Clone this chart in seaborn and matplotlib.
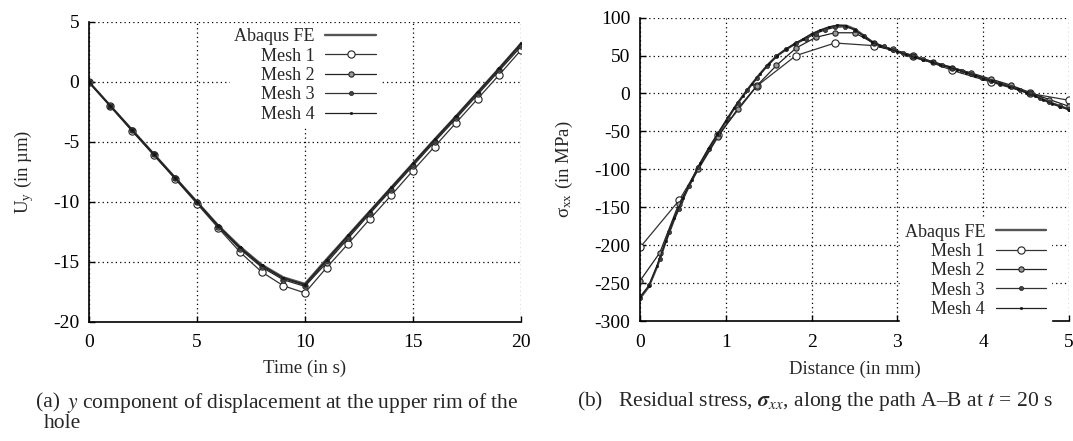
import matplotlib
matplotlib.use("Agg")
import matplotlib.pyplot as plt
import seaborn as sns

# (a) displacement at the upper rim of the hole
time_s = [0, 1, 2, 3, 4, 5, 6, 7, 8, 9, 10, 11, 12, 13, 14, 15, 16, 17, 18, 19, 20]
uy_abaqus = [0, -2.0, -4.0, -6.0, -8.0, -10.0, -12.0, -13.75, -15.25, -16.3, -16.85, -14.8, -12.8, -10.8, -8.8, -6.8, -4.8, -2.85, -0.85, 1.15, 3.2]
uy_mesh1 = [0, -2.05, -4.1, -6.1, -8.1, -10.15, -12.2, -14.2, -15.85, -17.0, -17.6, -15.5, -13.5, -11.45, -9.45, -7.4, -5.4, -3.4, -1.4, 0.6, 2.65]
uy_mesh2 = [0, -2.0, -4.05, -6.05, -8.05, -10.05, -12.1, -13.95, -15.45, -16.5, -17.05, -15.1, -13.05, -11.0, -9.0, -7.0, -5.0, -3.05, -1.05, 0.95, 2.95]
uy_mesh3 = [0, -2.0, -4.0, -6.0, -8.0, -10.0, -12.05, -13.85, -15.35, -16.4, -16.95, -14.95, -12.9, -10.9, -8.9, -6.9, -4.9, -2.9, -0.9, 1.1, 3.1]
uy_mesh4 = [0, -2.0, -4.0, -6.0, -8.0, -10.0, -12.0, -13.8, -15.3, -16.35, -16.9, -14.85, -12.8, -10.8, -8.8, -6.8, -4.8, -2.85, -0.85, 1.15, 3.2]

# (b) residual stress along path A-B
dist_fine = [0.0, 0.1, 0.2, 0.3, 0.4, 0.5, 0.6, 0.7, 0.8, 0.9, 1.0, 1.1, 1.2, 1.3, 1.4, 1.5, 1.6, 1.7,
             1.8, 1.9, 2.0, 2.1, 2.2, 2.3, 2.4, 2.5, 2.6, 2.7, 2.8, 2.9, 3.0, 3.1, 3.2, 3.3, 3.4, 3.5,
             3.6, 3.7, 3.8, 3.9, 4.0, 4.1, 4.2, 4.3, 4.4, 4.5, 4.6, 4.7, 4.8, 4.9, 5.0]
sxx_abaqus = [-270, -255, -228, -195, -165, -139, -115, -93, -73, -55, -37, -19, -3, 12, 26, 39, 50, 58,
              65, 71, 78, 83, 87, 89.5, 89.5, 85, 77, 68, 63, 59, 55, 51.5, 48, 44.5, 41.5, 38,
              35, 31.5, 28, 24, 20, 16.5, 13, 9.5, 6, 1.5, -3, -8, -13, -17, -21]
sxx_mesh4 = [-268, -254, -227, -195, -164, -138, -114, -92, -72, -54, -36, -19, -3, 12, 26, 39, 50, 58.5,
             65.5, 72, 78.5, 83.5, 87.5, 90, 89, 84, 76, 68, 63, 59, 55, 51, 47.5, 44, 41, 37.5,
             34.5, 31, 27.5, 23.5, 19.5, 16, 12.5, 9, 5.5, 1, -3.5, -8.5, -13.5, -17.5, -21.5]

dist_mesh3 = [0, 0.11, 0.23, 0.34, 0.45, 0.57, 0.68, 0.8, 0.91, 1.02, 1.14, 1.25, 1.36, 1.48, 1.59,
              1.7, 1.82, 1.93, 2.05, 2.16, 2.27, 2.39, 2.5, 2.61, 2.73, 2.84, 2.95, 3.07, 3.18, 3.3,
              3.41, 3.52, 3.64, 3.75, 3.86, 3.98, 4.09, 4.2, 4.32, 4.43, 4.55, 4.66, 4.77, 4.89, 5.0]
sxx_mesh3 = [-270, -253, -218, -183, -152, -122, -97, -73, -53, -33, -12, 4, 20, 36, 49,
             58, 66, 72, 79, 84, 87, 88, 84, 76, 67, 62, 57, 53, 49, 45,
             41, 37, 34, 30, 26, 21, 17, 13, 9, 5, 0, -6, -11, -16, -21]

dist_mesh2 = [0, 0.23, 0.45, 0.68, 0.91, 1.14, 1.36, 1.59, 1.82, 2.05, 2.27, 2.5, 2.73, 2.95, 3.18,
              3.41, 3.64, 3.86, 4.09, 4.32, 4.55, 4.77, 5.0]
sxx_mesh2 = [-247, -210, -146, -100, -57, -20, 10, 37, 60, 74, 80, 80, 66, 58, 50,
             42, 34, 27, 19, 11, 1, -8, -17]

dist_mesh1 = [0, 0.455, 0.909, 1.364, 1.818, 2.273, 2.727, 3.182, 3.636, 4.091, 4.545, 5.0]
sxx_mesh1 = [-203, -141, -55, 10, 50, 66.5, 63, 50, 30.5, 15, 0, -9]

labels = ["Abaqus FE", "Mesh 1", "Mesh 2", "Mesh 3", "Mesh 4"]

sns.set_theme(style="white")
plt.rcParams["font.family"] = ["Liberation Serif", "DejaVu Serif"]
plt.rcParams["mathtext.fontset"] = "stix"
plt.rcParams["axes.unicode_minus"] = False

FS = 14      # 刻度
FS_LAB = 13.5  # 坐标轴标题
FS_CAP = 15.5  # 子图说明

# 各系列样式
styles = [
    dict(color="#555555", lw=1.7),
    dict(color="#333333", lw=0.9, marker="o", ms=5.2, mfc="white", mec="#222222", mew=0.8),
    dict(color="#222222", lw=0.9, marker="o", ms=3.8, mfc="#999999", mec="#222222", mew=0.8),
    dict(color="#333333", lw=0.9, marker="o", ms=3.0, mfc="#444444", mec="#222222", mew=0.5),
    dict(color="#222222", lw=0.9, marker="o", ms=1.8, mfc="#111111", mec="#111111", mew=0.3),
]


def style_axes(ax):
    ax.grid(True, linestyle=(0, (1, 2.5)), color="black", lw=0.9)
    for side in ["top", "right"]:
        ax.spines[side].set_visible(False)
    for side in ["left", "bottom"]:
        ax.spines[side].set_color("black")
        ax.spines[side].set_linewidth(1.2)
    ax.tick_params(direction="in", length=4, width=1, colors="black", labelsize=FS,
                   bottom=True, left=True)
    ax.tick_params(axis="x", pad=9)
    ax.tick_params(axis="y", pad=7)


fig = plt.figure(figsize=(10.73, 4.41), dpi=100)
ax1 = fig.add_axes([0.0827, 0.2705, 0.4029, 0.680])
ax2 = fig.add_axes([0.5965, 0.2721, 0.3998, 0.688])

series_a = [uy_abaqus, uy_mesh1, uy_mesh2, uy_mesh3, uy_mesh4]
for vals, lab, st in zip(series_a, labels, styles):
    sns.lineplot(x=time_s, y=vals, ax=ax1, label=lab, sort=False, estimator=None, **st)

series_b = [(dist_fine, sxx_abaqus), (dist_mesh1, sxx_mesh1), (dist_mesh2, sxx_mesh2),
            (dist_mesh3, sxx_mesh3), (dist_fine, sxx_mesh4)]
for (xs, ys), lab, st in zip(series_b, labels, styles):
    sns.lineplot(x=xs, y=ys, ax=ax2, label=lab, sort=False, estimator=None, **st)

ax1.set_xlim(0, 20)
ax1.set_ylim(-20, 5)
ax1.set_xticks([0, 5, 10, 15, 20])
ax1.set_yticks([-20, -15, -10, -5, 0, 5])
ax1.set_xlabel("Time (in s)", fontsize=FS_LAB, labelpad=6)
ax1.set_ylabel("U$_\\mathregular{y}$ (in µm)", fontsize=FS_LAB, labelpad=12)

ax2.set_xlim(0, 5)
ax2.set_ylim(-300, 100)
ax2.set_xticks([0, 1, 2, 3, 4, 5])
ax2.set_yticks([-300, -250, -200, -150, -100, -50, 0, 50, 100])
ax2.set_xlabel("Distance (in mm)", fontsize=FS_LAB, labelpad=7)
ax2.set_ylabel("σ$_\\mathregular{xx}$ (in MPa)", fontsize=FS_LAB, labelpad=14)

for ax in (ax1, ax2):
    style_axes(ax)

# markerfirst=False 时图例各行右对齐，文字在左、样例在右
leg_kw = dict(fontsize=13, markerfirst=False, frameon=True, fancybox=False,
              framealpha=1.0, edgecolor="white", facecolor="white", handlelength=2.8,
              handletextpad=0.6, labelspacing=0.13, borderpad=0.25, borderaxespad=0)
ax1.legend(loc="upper right", bbox_to_anchor=(0.675, 0.993), **leg_kw)
ax2.legend(loc="lower right", bbox_to_anchor=(0.958, -0.005), **leg_kw)

# 子图说明
fig.text(36 / 1073, 1 - 403 / 441, "(a)", fontsize=FS_CAP, va="center", ha="left")
fig.text(67 / 1073, 1 - 403 / 441, "$y$ component of displacement at the upper rim of the",
         fontsize=FS_CAP, va="center", ha="left")
fig.text(44 / 1073, 1 - 424 / 441, "hole", fontsize=FS_CAP, va="center", ha="left")
fig.text(577 / 1073, 1 - 401 / 441,
         "(b)   Residual stress, $\\boldsymbol{\\sigma}_{xx}$, along the path A–B at $t$ = 20 s",
         fontsize=FS_CAP, va="center", ha="left")

fig.savefig("out.png", dpi=100)
plt.close(fig)
